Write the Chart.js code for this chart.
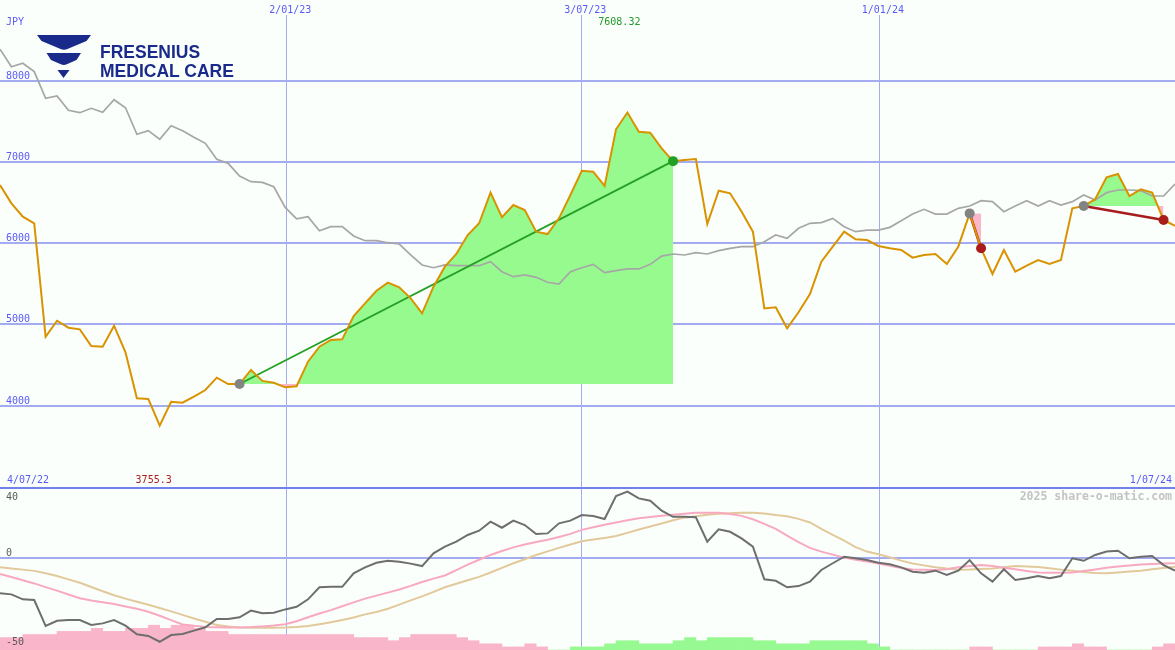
<!DOCTYPE html>
<html lang="en">
<head>
<meta charset="UTF-8">
<title>Fresenius Medical Care - JPY</title>
<script src="https://cdn.jsdelivr.net/npm/chart.js"></script>
<style>
  html, body { margin: 0; padding: 0; background: #fbfffb; }
  #wrap { position: relative; width: 1175px; height: 650px; overflow: hidden; background: #fbfffb; }
  #priceChart { position: absolute; left: 0; top: 0; }
  #oscChart { position: absolute; left: 0; top: 486px; }
  #logo { position: absolute; left: 0; top: 0; }
  #logo text { font-family: "Liberation Sans", Arial, sans-serif; font-weight: bold; font-size: 17.5px; fill: #1a2a8a; }
</style>
</head>
<body>
<div id="wrap">
  <canvas id="priceChart" width="1175" height="486"></canvas>
  <canvas id="oscChart" width="1175" height="164"></canvas>
  <svg id="logo" width="240" height="90" viewBox="0 0 240 90">
    <path fill="#1a2a8a" d="M37,35 L91,35 L86.5,41 L68,48.8 Q64,50.6 60,48.8 L41.5,41 Z"/>
    <path fill="#1a2a8a" d="M46.5,53 L81,53 L76.5,60 L66.8,64.3 Q63.8,65.6 60.8,64.3 L51,60 Z"/>
    <path fill="#1a2a8a" d="M57.5,70 L69.5,70 L63.5,78 Z"/>
    <text x="100" y="57.5">FRESENIUS</text>
    <text x="100" y="77">MEDICAL CARE</text>
  </svg>
</div>

<script>
// weekly closes, index 0 = first week of 4/07/22
const priceJPY = [
  6716, 6491, 6326, 6245, 4849, 5046, 4960, 4940, 4735, 4726,
  4985, 4657, 4091, 4083, 3755.3, 4049, 4037, 4111, 4193, 4345,
  4267, 4267, 4440, 4305, 4283, 4226, 4240, 4542, 4726, 4809,
  4817, 5104, 5260, 5415, 5514, 5457, 5322, 5137, 5465, 5711,
  5867, 6101, 6245, 6622, 6319, 6470, 6409, 6142, 6113, 6306,
  6593, 6892, 6880, 6704, 7402, 7608.32, 7372, 7360, 7168, 7010,
  7024, 7036, 6236, 6646, 6614, 6390, 6142, 5198, 5211, 4953,
  5150, 5375, 5772, 5957, 6142, 6048, 6039, 5966, 5937, 5916,
  5822, 5855, 5867, 5744, 5957, 6367, 5937, 5621, 5916, 5649,
  5723, 5793, 5744, 5793, 6429, 6458, 6540, 6811, 6852, 6581,
  6663, 6622, 6286, 6212
];

// grey comparison line
const benchJPY = [
  8386, 8172, 8214, 8111, 7783, 7812, 7635, 7606, 7660, 7612,
  7766, 7667, 7340, 7385, 7279, 7446, 7385, 7303, 7229, 7032,
  6983, 6827, 6757, 6749, 6695, 6440, 6300, 6326, 6154, 6203,
  6203, 6089, 6031, 6031, 6006, 5990, 5855, 5732, 5698, 5732,
  5723, 5723, 5723, 5772, 5649, 5588, 5609, 5580, 5519, 5498,
  5649, 5698, 5740, 5637, 5662, 5683, 5683, 5740, 5842, 5867,
  5855, 5883, 5867, 5908, 5937, 5957, 5957, 6018, 6101, 6060,
  6183, 6245, 6253, 6306, 6203, 6142, 6162, 6162, 6195, 6277,
  6359, 6417, 6359, 6359, 6429, 6458, 6523, 6511, 6388, 6458,
  6523, 6458, 6523, 6470, 6511, 6593, 6532, 6622, 6655, 6655,
  6646, 6581, 6581, 6729
];

// lower panel
const oscLine = [
  -19.8, -20.4, -23.2, -23.6, -38.3, -35.3, -34.9, -34.9, -37.7, -36.8,
  -34.9, -38.1, -43, -43.9, -47.2, -43.4, -42.8, -40.9, -39, -34.3,
  -34.3, -33.4, -29.6, -31.1, -30.8, -28.9, -27.4, -23.2, -16.4, -16.1,
  -16.1, -8.5, -5.1, -2.5, -1.4, -1.9, -3, -4.4, 2.8, 6.6,
  9.4, 13.2, 15.6, 20.7, 17.3, 21.3, 18.8, 13.7, 14.1, 19.8,
  21.3, 24.5, 23.9, 22.2, 35.2, 37.7, 33.9, 32.6, 26.9, 23.5,
  23.5, 23.2, 9.4, 16.4, 15, 11.3, 6.6, -11.9, -12.7, -16.4,
  -15.7, -13.2, -6.6, -2.8, 0.9, 0, -1, -2.5, -3.4, -5.1,
  -7.6, -8.1, -7, -9.4, -7, -1, -8.5, -13.2, -6.2, -12.3,
  -11.3, -10, -11.3, -10, 0, -1.4, 1.9, 3.8, 4.3, 0,
  0.9, 1.3, -3.8, -7
];

const signalPink = [
  -8.9, -10.6, -12.4, -14.2, -16.3, -18.3, -20.5, -22.6, -23.8, -24.8,
  -25.9, -27.2, -28.5, -30.2, -32.5, -35, -37.4, -38.2, -38.8, -39,
  -39.1, -39.1, -38.9, -38.5, -38, -37.3, -35.6, -33.3, -31.2, -29.3,
  -27.1, -24.9, -22.8, -21.1, -19.4, -17.6, -15.6, -13.4, -11.5, -9.7,
  -6.7, -3.6, -0.8, 1.9, 4.1, 6.2, 7.8, 9.2, 10.5, 12.1,
  13.8, 16.1, 17.6, 19, 20.3, 21.5, 22.6, 23.4, 24.1, 24.7,
  25.2, 25.7, 25.8, 25.7, 25.1, 24, 22.1, 19.5, 16.7, 12.8,
  9.1, 5.9, 3.8, 2.1, 0.4, -0.8, -1.8, -3, -4.2, -5.5,
  -6.3, -6.5, -6.6, -6.2, -5.1, -4.4, -3.8, -4.3, -5.3, -6.2,
  -7.2, -8, -8.1, -8.1, -8, -7.2, -6.3, -5.3, -4.6, -4,
  -3.5, -3.2, -3, -2.8
];

const slowTan = [
  -5.1, -5.7, -6.4, -7.1, -8.5, -10, -11.9, -13.8, -16.2, -18.6,
  -20.9, -22.8, -24.6, -26.3, -28.1, -30, -32, -34, -35.9, -37.7,
  -38.6, -39.2, -39.3, -39.3, -39.3, -39.2, -38.9, -38.3, -37.3, -36.2,
  -34.9, -33.5, -31.7, -30.4, -28.5, -26.2, -23.8, -21.5, -19, -16.4,
  -14.4, -12.4, -10.5, -8, -5.4, -2.8, -0.5, 1.9, 3.9, 5.9,
  7.8, 9.6, 10.6, 11.5, 12.6, 14.4, 16.3, 18, 19.7, 21.5,
  23, 23.8, 24.6, 25.2, 25.5, 25.8, 25.8, 25.4, 24.5, 23.8,
  22.3, 20.3, 16.6, 13.2, 10, 6.3, 3.8, 2.3, 0.6, -1.3,
  -2.9, -4, -5, -5.8, -6.4, -6.3, -6, -5.7, -5.1, -4.4,
  -4.6, -4.9, -5.6, -6.4, -7.1, -7.8, -8.3, -8.4, -8, -7.5,
  -7, -6.2, -5.5, -4.7
];

// histogram steps, negative = pink, positive = green
const histLevels = [
  -4, -4, -5, -5, -5, -6, -6, -6, -7, -6,
  -6, -7, -7, -8, -7, -8, -8, -7, -6, -6,
  -5, -5, -5, -5, -5, -5, -5, -5, -5, -5,
  -5, -4, -4, -4, -3, -4, -5, -5, -5, -5,
  -4, -3, -2, -2, -1, -1, -2, -1, 0, 0,
  1, 1, 1, 2, 3, 3, 2, 2, 2, 3,
  4, 3, 4, 4, 4, 4, 3, 3, 2, 2,
  2, 3, 3, 3, 3, 3, 2, 1, 0, 0,
  0, 0, 0, 0, 0, -1, -1, 0, 0, 0,
  0, -1, -1, -1, -2, -1, -1, 0, 0, 0,
  0, -1, -2, -2
];

// trades (week index of entry and exit)
const tradeEntryIdx = [21, 85, 95];
const tradeExitIdx = [59, 86, 102];

// axes
const priceTicks = [4000, 5000, 6000, 7000, 8000];
const oscTicks = [40, 0, -50];
const dateTickPos = [25.13, 50.99, 77.08];
const dateTickLabels = ['2/01/23', '3/07/23', '1/01/24'];
const rangeLabels = ['4/07/22', '1/07/24'];

const BG = '#fbfffb';
const GRID = '#a3acf0';
const SEP = '#7382e8';
const BLUE_TXT = '#5a5af5';
const FILL_UP = '#97fa8f';
const FILL_DOWN = '#fbb6c9';
const WIN = '#23a023';
const LOSS = '#a81c1c';
const MONO = '"DejaVu Sans Mono", monospace';

const pts = arr => arr.map((v, i) => ({ x: i, y: v }));

function weekAxis() {
  return {
    type: 'linear', min: 0, max: 103, offset: false,
    afterBuildTicks: s => { s.ticks = dateTickPos.map(v => ({ value: v })); },
    afterFit: s => { s.height = 0; },
    ticks: { display: false },
    grid: { color: GRID, lineWidth: 1, drawTicks: false, offset: false },
    border: { display: false }
  };
}

// Top panel labels
const priceLabels = {
  id: 'priceLabels',
  afterDraw(chart) {
    const { ctx, scales: { x, y } } = chart;
    ctx.save();
    ctx.font = '10px ' + MONO;
    ctx.textBaseline = 'alphabetic';
    ctx.fillStyle = BLUE_TXT;
    ctx.textAlign = 'left';
    priceTicks.forEach(v => ctx.fillText(String(v), 6, y.getPixelForValue(v) - 2));
    ctx.fillText('JPY', 6, 25);
    // date labels sit above the vertical grid lines
    dateTickPos.forEach((p, i) => {
      const px = x.getPixelForValue(p);
      ctx.fillStyle = BG;
      ctx.fillRect(px - 19, 0, 46, 15);
      ctx.fillStyle = BLUE_TXT;
      ctx.fillText(dateTickLabels[i], px - 17.5, 13);
    });
    ctx.fillText(rangeLabels[0], 7, 483);
    ctx.textAlign = 'right';
    ctx.fillText(rangeLabels[1], 1172, 483);

    const lo = Math.min(...priceJPY), hi = Math.max(...priceJPY);
    const iLo = priceJPY.indexOf(lo), iHi = priceJPY.indexOf(hi);
    ctx.fillStyle = '#aa2020';
    ctx.fillText(String(lo), x.getPixelForValue(iLo) + 12, 483);
    ctx.fillStyle = '#22992a';
    ctx.fillText(String(hi), x.getPixelForValue(iHi) + 13, 25);
    ctx.restore();
  }
};

// Bottom panel labels
const oscLabels = {
  id: 'oscLabels',
  afterDraw(chart) {
    const { ctx, scales: { y } } = chart;
    ctx.save();
    ctx.font = '10px ' + MONO;
    ctx.fillStyle = '#5a5a5a';
    ctx.textAlign = 'left';
    oscTicks.forEach(v => {
      const py = y.getPixelForValue(v);
      ctx.fillText(String(v), 6, v === oscTicks[0] ? py + 12 : py - 2);
    });
    ctx.font = 'bold 11.5px ' + MONO;
    ctx.fillStyle = '#c4c4c4';
    ctx.textAlign = 'right';
    ctx.fillText('2025 share-o-matic.com', 1172, 14);
    ctx.restore();
  }
};

// Trade overlays
const tradeFills = tradeEntryIdx.map((e, t) => {
  const x = tradeExitIdx[t];
  return {
    label: 'fill' + t,
    data: priceJPY.slice(e, x + 1).map((v, j) => ({ x: e + j, y: v })),
    borderWidth: 0,
    borderColor: 'rgba(0,0,0,0)',
    pointRadius: 0,
    fill: { target: { value: priceJPY[e] }, above: FILL_UP, below: FILL_DOWN },
    order: 6
  };
});

const tradeLines = tradeEntryIdx.map((e, t) => {
  const x = tradeExitIdx[t];
  const win = priceJPY[x] > priceJPY[e];
  return {
    label: 'trade' + t,
    data: [{ x: e, y: priceJPY[e] }, { x: x, y: priceJPY[x] }],
    borderColor: win ? WIN : LOSS,
    borderWidth: win ? 1.8 : 2.6,
    pointRadius: 0,
    fill: false,
    order: 4
  };
});

const baseOptions = {
  responsive: false,
  animation: false,
  events: [],
  layout: { padding: 0, autoPadding: false },
  elements: { line: { tension: 0 } },
  plugins: { legend: { display: false }, tooltip: { enabled: false } }
};

new Chart(document.getElementById('priceChart'), {
  type: 'line',
  data: {
    datasets: [
      ...tradeFills,
      {
        label: 'bench', data: pts(benchJPY),
        borderColor: '#a6a6a6', borderWidth: 1.7, pointRadius: 0, fill: false, order: 5
      },
      {
        label: 'price', data: pts(priceJPY),
        borderColor: '#d99200', borderWidth: 2, pointRadius: 0, fill: false, order: 3
      },
      ...tradeLines,
      {
        label: 'entries',
        data: tradeEntryIdx.map(e => ({ x: e, y: priceJPY[e] })),
        showLine: false, pointRadius: 5, pointBorderWidth: 0,
        pointBackgroundColor: '#838383', order: 2
      },
      {
        label: 'exits',
        data: tradeExitIdx.map(x => ({ x: x, y: priceJPY[x] })),
        showLine: false, pointRadius: 5, pointBorderWidth: 0,
        pointBackgroundColor: tradeExitIdx.map((x, t) => priceJPY[x] > priceJPY[tradeEntryIdx[t]] ? WIN : LOSS),
        order: 1
      }
    ]
  },
  options: {
    ...baseOptions,
    scales: {
      x: weekAxis(),
      y: {
        type: 'linear', min: 3012, max: 8993,
        afterBuildTicks: s => { s.ticks = priceTicks.map(v => ({ value: v })); },
        afterFit: s => { s.width = 0; },
        ticks: { display: false },
        grid: { color: GRID, lineWidth: 2, drawTicks: false },
        border: { display: false }
      }
    }
  },
  plugins: [priceLabels]
});

new Chart(document.getElementById('oscChart'), {
  type: 'line',
  data: {
    datasets: [
      {
        label: 'osc', data: pts(oscLine),
        borderColor: '#6e6e6e', borderWidth: 2, pointRadius: 0, fill: false, order: 1
      },
      {
        label: 'signal', data: pts(signalPink),
        borderColor: '#f8a9c0', borderWidth: 2, pointRadius: 0, fill: false, order: 2
      },
      {
        label: 'slow', data: pts(slowTan),
        borderColor: '#e2c99c', borderWidth: 2, pointRadius: 0, fill: false, order: 3
      },
      {
        type: 'bar', label: 'hist',
        data: histLevels.map((v, i) => ({ x: i + 0.5, y: Math.abs(v) })),
        backgroundColor: histLevels.map(v => v < 0 ? '#f9b5c9' : '#97f991'),
        borderWidth: 0, barPercentage: 1, categoryPercentage: 1,
        yAxisID: 'yh', order: 10
      }
    ]
  },
  options: {
    ...baseOptions,
    scales: {
      x: weekAxis(),
      y: {
        type: 'linear', min: -51.86, max: 40.9,
        afterBuildTicks: s => { s.ticks = [{ value: 0 }, { value: 40 }]; },
        afterFit: s => { s.width = 0; },
        ticks: { display: false },
        grid: {
          color: c => (c.tick && c.tick.value === 40) ? SEP : GRID,
          lineWidth: 2, drawTicks: false
        },
        border: { display: false }
      },
      yh: { type: 'linear', min: 0, max: 52.9, display: false }
    }
  },
  plugins: [oscLabels]
});
</script>
</body>
</html>
